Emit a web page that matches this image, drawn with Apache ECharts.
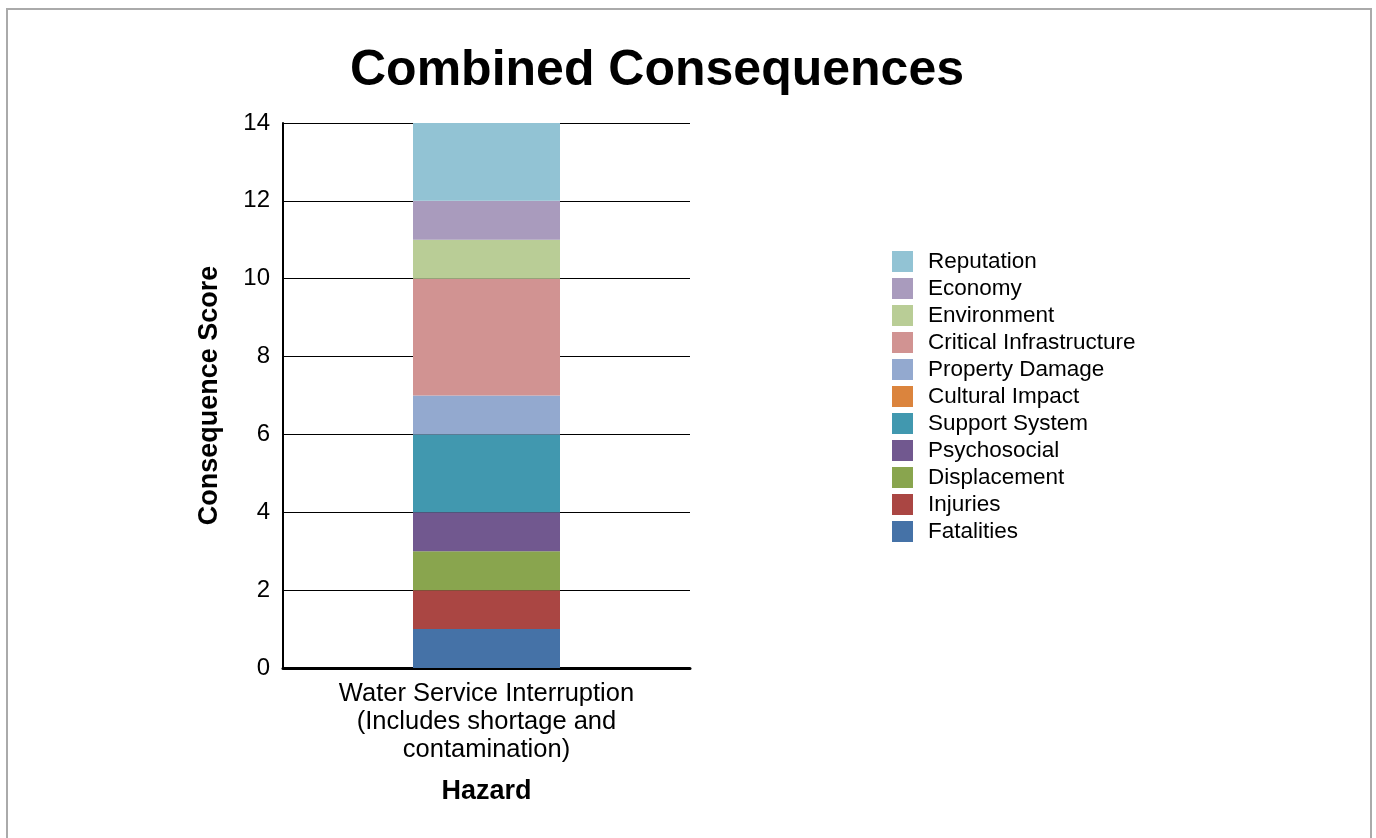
<!DOCTYPE html>
<html><head><meta charset="utf-8">
<script src="https://cdn.jsdelivr.net/npm/echarts@6/dist/echarts.min.js"></script>
<style>
html,body{margin:0;padding:0;background:#fff;}
#frame{position:absolute;left:6px;top:8px;width:1366px;height:900px;border:2px solid #aaaaaa;box-sizing:border-box;}
#main{position:absolute;left:0;top:0;width:1376px;height:838px;}
</style>
</head><body>
<div id="frame"></div>
<div id="main"></div>
<script>
const categories = ['Water Service Interruption\n(Includes shortage and\ncontamination)'];
const seriesNames = ['Fatalities','Injuries','Displacement','Psychosocial','Support System','Cultural Impact','Property Damage','Critical Infrastructure','Environment','Economy','Reputation'];
const seriesValues = [[1],[1],[1],[1],[2],[0],[1],[3],[1],[1],[2]];
const seriesColors = ['#4572A7','#AA4643','#89A54E','#71588F','#4198AF','#DB843D','#93A9CF','#D19392','#B9CD96','#A99BBD','#92C3D4'];
const yTicks = [0,2,4,6,8,10,12,14];

const chart = echarts.init(document.getElementById('main'));
const font = 'Arial, "Liberation Sans", sans-serif';
chart.setOption({
  animation:false,
  textStyle:{fontFamily:font},
  title:{text:'Combined Consequences',left:657,top:46,textAlign:'center',padding:0,
    textStyle:{fontSize:50,fontWeight:'bold',color:'#000',fontFamily:font}},
  legend:{orient:'vertical',left:892,top:250,padding:0,itemWidth:21,itemHeight:21,itemGap:4,
    icon:'rect',data:seriesNames.slice().reverse(),
    textStyle:{fontSize:22.5,lineHeight:21,color:'#000',fontFamily:font,padding:[0,0,0,10]}},
  grid:{left:283,right:686,top:123,bottom:170,containLabel:false},
  xAxis:{type:'category',data:categories,
    axisLine:{lineStyle:{color:'#000',width:3}},axisTick:{show:false},
    axisLabel:{fontSize:25.5,color:'#000',lineHeight:28,margin:12,fontFamily:font},
    name:'Hazard',nameLocation:'middle',nameGap:110,
    nameTextStyle:{fontSize:27,fontWeight:'bold',color:'#000',fontFamily:font}},
  yAxis:{type:'value',min:yTicks[0],max:yTicks[yTicks.length-1],interval:2,
    axisLine:{show:true,lineStyle:{color:'#000',width:2}},axisTick:{show:false},
    splitLine:{lineStyle:{color:'#000',width:1}},
    axisLabel:{fontSize:24,color:'#000',margin:13,padding:[6,0,0,0],fontFamily:font},
    name:'Consequence Score',nameLocation:'middle',nameGap:60,
    nameTextStyle:{fontSize:27,fontWeight:'bold',color:'#000',fontFamily:font}},
  series: seriesNames.map((n,i)=>({name:n,type:'bar',stack:'total',barWidth:147,
    data:seriesValues[i],itemStyle:{color:seriesColors[i]}}))
});
</script>
</body></html>
